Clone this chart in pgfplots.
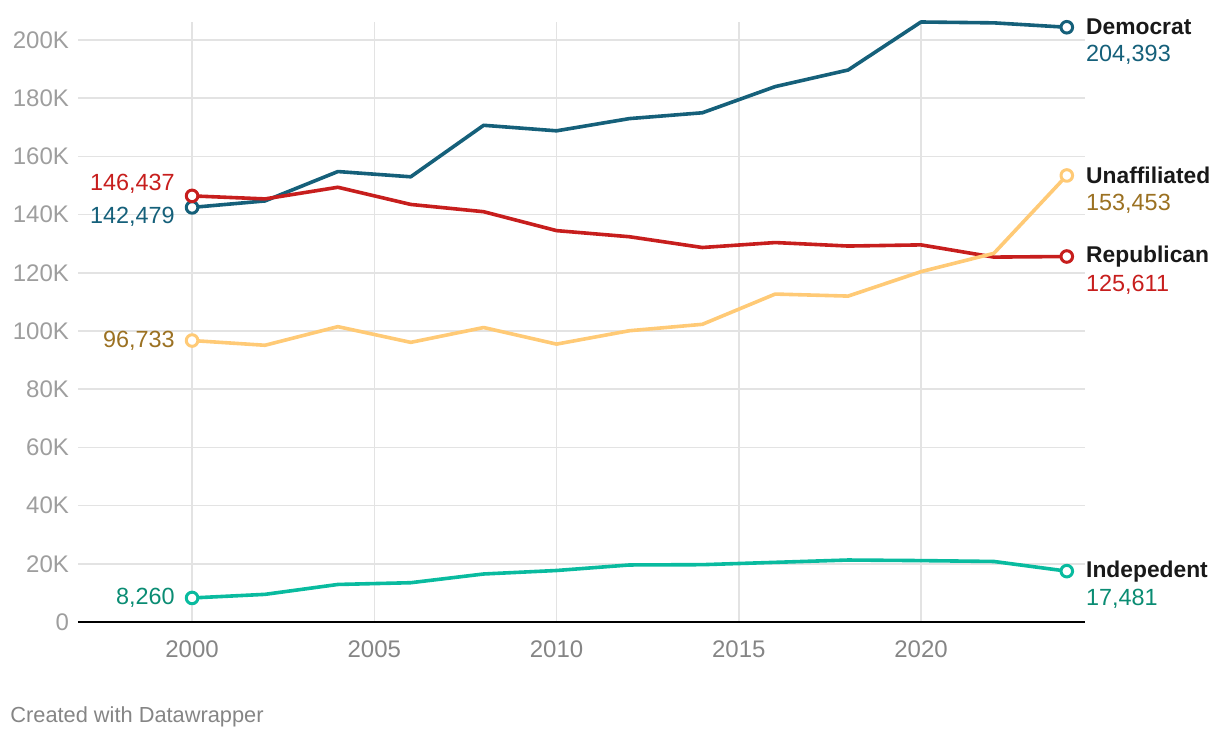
\documentclass[border=0pt]{standalone}
\usepackage{pgfplots}
\pgfplotsset{compat=1.18}
\usepackage{fontspec}
\setmainfont{Liberation Sans}
\definecolor{dem}{HTML}{15607A}
\definecolor{rep}{HTML}{C71E1D}
\definecolor{una}{HTML}{FFCA76}
\definecolor{unatxt}{HTML}{9B7122}
\definecolor{ind}{HTML}{09BB9F}
\definecolor{indtxt}{HTML}{0A8C73}
\definecolor{gridc}{HTML}{E3E3E3}
\definecolor{ytk}{HTML}{9E9E9E}
\definecolor{xtk}{HTML}{858585}
\begin{document}
\begin{tikzpicture}
\useasboundingbox (-39pt,-58pt) rectangle (571pt,311pt);
\begin{axis}[
  at={(0,0)}, anchor=south west,
  scale only axis, width=503.5pt, height=300pt,
  xmin=1996.87, xmax=2024.5, ymin=0, ymax=206.2,
  axis x line=bottom, axis y line=left,
  x axis line style={-, black, line width=1pt},
  y axis line style={draw=none},
  xtick={2000,2005,2010,2015,2020},
  xticklabels={2000,2005,2010,2015,2020},
  ytick={0,20,...,200},
  yticklabels={0,20K,40K,60K,80K,100K,120K,140K,160K,180K,200K},
  major tick length=0pt,
  grid=major, grid style={gridc, line width=0.8pt},
  tick label style={font=\fontsize{12}{14}\selectfont},
  xticklabel style={text=xtk, yshift=-6pt},
  yticklabel style={text=ytk, xshift=-1pt, anchor=east},
  clip=false,
  every axis plot/.append style={line width=1.8pt, line join=round},
  mark options={solid, fill=white, line width=1.5pt},
]
\addplot[dem, mark=*, mark size=2.9pt, mark indices={1,13}] coordinates {
(2000,142.479)(2002,144.7)(2004,154.8)(2006,153.0)(2008,170.7)(2010,168.8)(2012,173.0)(2014,175.0)(2016,184.0)(2018,189.7)(2020,206.2)(2022,205.9)(2024,204.393)};
\addplot[rep, mark=*, mark size=2.9pt, mark indices={1,13}] coordinates {
(2000,146.437)(2002,145.4)(2004,149.4)(2006,143.5)(2008,141.0)(2010,134.5)(2012,132.4)(2014,128.7)(2016,130.4)(2018,129.2)(2020,129.6)(2022,125.4)(2024,125.611)};
\addplot[una, mark=*, mark size=2.9pt, mark indices={1,13}] coordinates {
(2000,96.733)(2002,95.1)(2004,101.5)(2006,96.1)(2008,101.2)(2010,95.5)(2012,100.1)(2014,102.3)(2016,112.7)(2018,112.0)(2020,120.4)(2022,126.7)(2024,153.453)};
\addplot[ind, mark=*, mark size=2.9pt, mark indices={1,13}] coordinates {
(2000,8.260)(2002,9.5)(2004,12.9)(2006,13.5)(2008,16.5)(2010,17.7)(2012,19.6)(2014,19.7)(2016,20.5)(2018,21.3)(2020,21.1)(2022,20.8)(2024,17.481)};
% end labels
\tikzset{nm/.style={anchor=west, font=\fontsize{11.4}{13}\selectfont\bfseries, text=black!90, inner sep=0pt},
         vl/.style={anchor=west, font=\fontsize{11.7}{13}\selectfont, inner sep=0pt},
         lv/.style={anchor=east, font=\fontsize{11.7}{13}\selectfont, inner sep=0pt}}
\node[nm] at ([xshift=9.5pt]axis cs:2024,204.393) {Democrat};
\node[vl, text=dem] at ([xshift=9.5pt,yshift=-14pt]axis cs:2024,204.393) {204,393};
\node[nm] at ([xshift=9.5pt]axis cs:2024,153.453) {Unaffiliated};
\node[vl, text=unatxt] at ([xshift=9.5pt,yshift=-14pt]axis cs:2024,153.453) {153,453};
\node[nm] at ([xshift=9.5pt]axis cs:2024,125.611) {Republican};
\node[vl, text=rep] at ([xshift=9.5pt,yshift=-14pt]axis cs:2024,125.611) {125,611};
\node[nm] at ([xshift=9.5pt]axis cs:2024,17.481) {Indepedent};
\node[vl, text=indtxt] at ([xshift=9.5pt,yshift=-14pt]axis cs:2024,17.481) {17,481};
% start labels
\node[lv, text=rep] at ([xshift=-8.5pt,yshift=6pt]axis cs:2000,146.437) {146,437};
\node[lv, text=dem] at ([xshift=-8.5pt,yshift=-4.5pt]axis cs:2000,142.479) {142,479};
\node[lv, text=unatxt] at ([xshift=-8.5pt]axis cs:2000,96.733) {96,733};
\node[lv, text=indtxt] at ([xshift=-8.5pt]axis cs:2000,8.260) {8,260};
\end{axis}
\node[anchor=base west, font=\fontsize{10.9}{12}\selectfont, text=xtk, inner sep=0pt] at (-34pt,-50pt) {Created with Datawrapper};
\end{tikzpicture}
\end{document}
